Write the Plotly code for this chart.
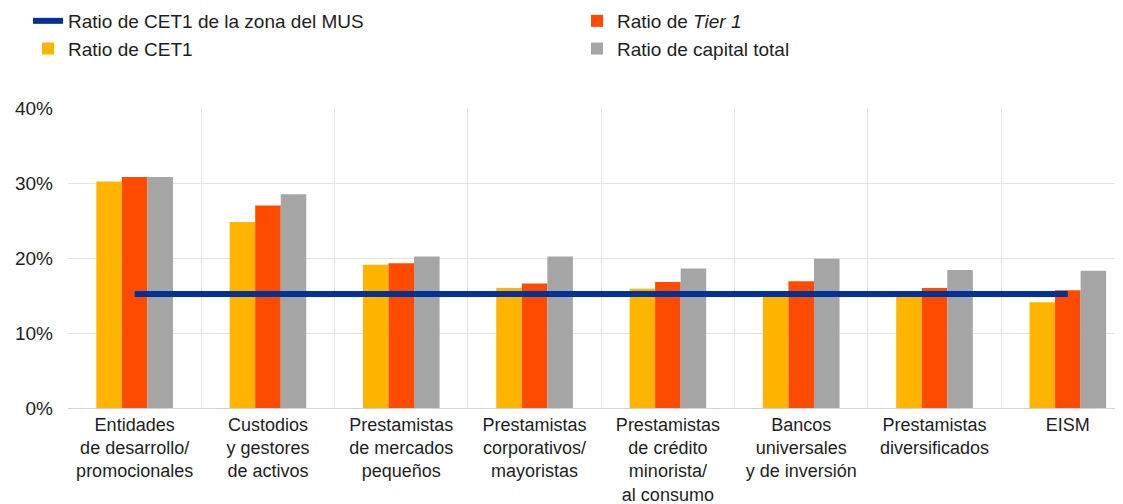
import plotly.graph_objects as go

# ── data ──────────────────────────────────────────────────────────────────────
categories = [
    "Entidades<br>de desarrollo/<br>promocionales",
    "Custodios<br>y gestores<br>de activos",
    "Prestamistas<br>de mercados<br>pequeños",
    "Prestamistas<br>corporativos/<br>mayoristas",
    "Prestamistas<br>de crédito<br>minorista/<br>al consumo",
    "Bancos<br>universales<br>y de inversión",
    "Prestamistas<br>diversificados",
    "EISM",
]
cet1 = [30.2, 24.8, 19.1, 16.0, 15.9, 15.0, 15.1, 14.1]
tier1 = [30.8, 27.0, 19.3, 16.6, 16.8, 16.9, 16.0, 15.7]
total_capital = [30.8, 28.5, 20.2, 20.2, 18.6, 19.9, 18.4, 18.3]
ssm_cet1 = [15.2] * len(categories)

# ── colour tokens ─────────────────────────────────────────────────────────────
_C_CET1 = "#FFB400"
_C_TIER1 = "#FF4B00"
_C_TOTAL = "#A5A5A5"
_C_SSM = "#003299"
_C_GRID = "#E3E3E3"
_C_TEXT = "#1E1E1E"

FONT = "Liberation Sans, Arial, sans-serif"
# page body has an 8px margin, so the figure is sized to end at the window edge
W, H = 1115, 496
M_TOP, M_BOT = 100, 96
PLOT_H = H - M_TOP - M_BOT

fig = go.Figure()

fig.add_trace(go.Bar(x=categories, y=cet1, name="Ratio de CET1",
                     marker=dict(color=_C_CET1, line=dict(width=0)),
                     legend="legend", legendrank=2))
fig.add_trace(go.Bar(x=categories, y=tier1, name="Ratio de <i>Tier 1</i>",
                     marker=dict(color=_C_TIER1, line=dict(width=0)),
                     legend="legend2", legendrank=1))
fig.add_trace(go.Bar(x=categories, y=total_capital, name="Ratio de capital total",
                     marker=dict(color=_C_TOTAL, line=dict(width=0)),
                     legend="legend2", legendrank=2))
fig.add_trace(go.Scatter(x=categories, y=ssm_cet1, mode="lines",
                         name="Ratio de CET1 de la zona del MUS",
                         line=dict(color=_C_SSM, width=6),
                         legend="legend", legendrank=1))

# legend box top sits a few px above the figure edge to tighten it up
legend_common = dict(
    orientation="v", xanchor="left", yref="paper", xref="container",
    yanchor="top", y=1 + (M_TOP + 6) / PLOT_H,
    font=dict(size=19, color=_C_TEXT),
    tracegroupgap=0, bgcolor="rgba(0,0,0,0)", traceorder="normal",
)

fig.update_layout(
    width=W, height=H,
    margin=dict(l=60, r=0, t=M_TOP, b=M_BOT, autoexpand=False),
    paper_bgcolor="white", plot_bgcolor="white",
    font=dict(family=FONT, color=_C_TEXT, size=19),
    barmode="group", bargap=0.425, bargroupgap=0,
    showlegend=True,
    legend=dict(x=20 / W, **legend_common),
    legend2=dict(x=569 / W, **legend_common),
    xaxis=dict(
        type="category", range=[-0.5, 7.414], tickson="boundaries",
        showgrid=True, gridcolor=_C_GRID, gridwidth=1,
        ticks="", showline=True, linecolor="#D0D0D0", linewidth=1,
        tickfont=dict(size=18, color=_C_TEXT), tickangle=0,
        automargin=False, zeroline=False,
    ),
    yaxis=dict(
        range=[0, 40], dtick=10, ticksuffix="%",
        showgrid=True, gridcolor=_C_GRID, gridwidth=1,
        zeroline=False, showline=False, ticks="",
        ticklabelstandoff=14, automargin=False,
        tickfont=dict(size=19, color=_C_TEXT),
    ),
)

fig.write_html("out.html")
